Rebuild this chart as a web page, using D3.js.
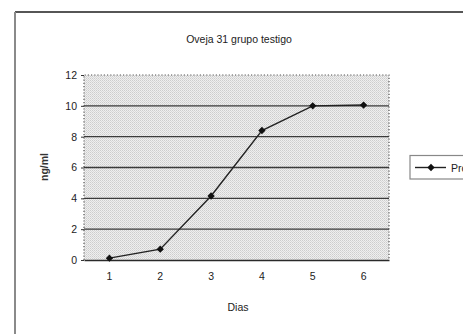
<!DOCTYPE html>
<html>
<head>
<meta charset="utf-8">
<script src="https://cdn.jsdelivr.net/npm/d3@7"></script>
<style>
  html, body { margin: 0; padding: 0; background: #fff; overflow: hidden; }
  svg { display: block; font-family: Arial, "Liberation Sans", sans-serif; }
</style>
</head>
<body>
<svg id="chart" width="463" height="334"></svg>
<script>
// Progesterone concentration per day, sheep 31 (control group)
const dias = ["1", "2", "3", "4", "5", "6"];
const progesterona = [0.12, 0.7, 4.15, 8.4, 10.0, 10.05];
const yTicks = [0, 2, 4, 6, 8, 10, 12];
const titulo = "Oveja 31 grupo testigo";
const serieNombre = "Progesterona";

const svg = d3.select("#chart");

// stippled plot background
const defs = svg.append("defs");
const pat = defs.append("pattern")
  .attr("id", "stipple").attr("width", 2).attr("height", 2)
  .attr("patternUnits", "userSpaceOnUse");
pat.append("rect").attr("width", 2).attr("height", 2).attr("fill", "#efefef");
pat.append("rect").attr("width", 1).attr("height", 1).attr("fill", "#cdcdcd");
pat.append("rect").attr("x", 1).attr("y", 1).attr("width", 1).attr("height", 1).attr("fill", "#d9d9d9");

// outer chart frame
svg.append("line").attr("x1", 15).attr("x2", 463).attr("y1", 12).attr("y2", 12)
  .attr("stroke", "#1e1e1e").attr("stroke-width", 1.6);
svg.append("line").attr("x1", 15).attr("x2", 15).attr("y1", 12).attr("y2", 334)
  .attr("stroke", "#8a8a8a").attr("stroke-width", 2);

const plot = { left: 84, right: 389, top: 75, bottom: 260 };

const x = d3.scaleBand().domain(dias).range([plot.left, plot.right]);
const y = d3.scaleLinear().domain([0, 12]).range([plot.bottom, plot.top]);

svg.append("rect")
  .attr("x", plot.left).attr("y", plot.top)
  .attr("width", plot.right - plot.left).attr("height", plot.bottom - plot.top)
  .attr("fill", "url(#stipple)");

// dotted plot border (top, left, right)
svg.append("path")
  .attr("d", `M${plot.left},${plot.bottom}V${plot.top}H${plot.right}V${plot.bottom}`)
  .attr("fill", "none").attr("stroke", "#555").attr("stroke-width", 1.2)
  .attr("stroke-dasharray", "1.2,2");

// horizontal gridlines
svg.append("g").selectAll("line")
  .data(yTicks.filter(d => d > 0 && d < 12))
  .join("line")
  .attr("x1", plot.left).attr("x2", plot.right)
  .attr("y1", d => y(d)).attr("y2", d => y(d))
  .attr("stroke", "#3a3a3a").attr("stroke-width", 1.4);

// y axis
const yAxis = svg.append("g")
  .attr("transform", `translate(${plot.left},0)`)
  .call(d3.axisLeft(y).tickValues(yTicks).tickSize(3).tickPadding(4));
yAxis.select(".domain").remove();
yAxis.selectAll(".tick line").attr("stroke", "#333");
yAxis.selectAll("text").attr("font-size", 10.5).attr("fill", "#222");

// x axis
const xAxis = svg.append("g")
  .attr("transform", `translate(0,${plot.bottom})`)
  .call(d3.axisBottom(x).tickSize(0).tickPadding(13));
xAxis.select(".domain").attr("stroke", "#2a2a2a").attr("stroke-width", 1.6);
xAxis.selectAll("text").attr("font-size", 10.5).attr("fill", "#222");

// series line with diamond markers
const cx = d => x(d) + x.bandwidth() / 2;
const pts = dias.map((d, i) => [cx(d), y(progesterona[i])]);
svg.append("path")
  .attr("d", d3.line()(pts))
  .attr("fill", "none").attr("stroke", "#222").attr("stroke-width", 1.4);
const diamond = d3.symbol().type(d3.symbolDiamond2).size(34);
svg.append("g").selectAll("path")
  .data(pts).join("path")
  .attr("transform", p => `translate(${p[0]},${p[1]})`)
  .attr("d", diamond).attr("fill", "#111");

// titles
svg.append("text").attr("x", 239).attr("y", 43).attr("text-anchor", "middle")
  .attr("font-size", 10.5).attr("fill", "#222").text(titulo);
svg.append("text").attr("x", 238).attr("y", 311).attr("text-anchor", "middle")
  .attr("font-size", 10.5).attr("fill", "#222").text("Dias");
svg.append("text")
  .attr("transform", "translate(48,167) rotate(-90)")
  .attr("text-anchor", "middle").attr("font-size", 10.5).attr("font-weight", "bold")
  .attr("fill", "#333").text("ng/ml");

// legend (runs past the right edge of the frame)
const lg = svg.append("g");
lg.append("rect").attr("x", 410).attr("y", 155.5).attr("width", 80).attr("height", 23.5)
  .attr("fill", "#fff").attr("stroke", "#888").attr("stroke-width", 1.2);
lg.append("line").attr("x1", 415).attr("x2", 446).attr("y1", 167.5).attr("y2", 167.5)
  .attr("stroke", "#222").attr("stroke-width", 1.4);
lg.append("path").attr("transform", "translate(431,167.5)").attr("d", diamond).attr("fill", "#111");
lg.append("text").attr("x", 451).attr("y", 171.5).attr("font-size", 10.5)
  .attr("fill", "#222").text(serieNombre);
</script>
</body>
</html>
